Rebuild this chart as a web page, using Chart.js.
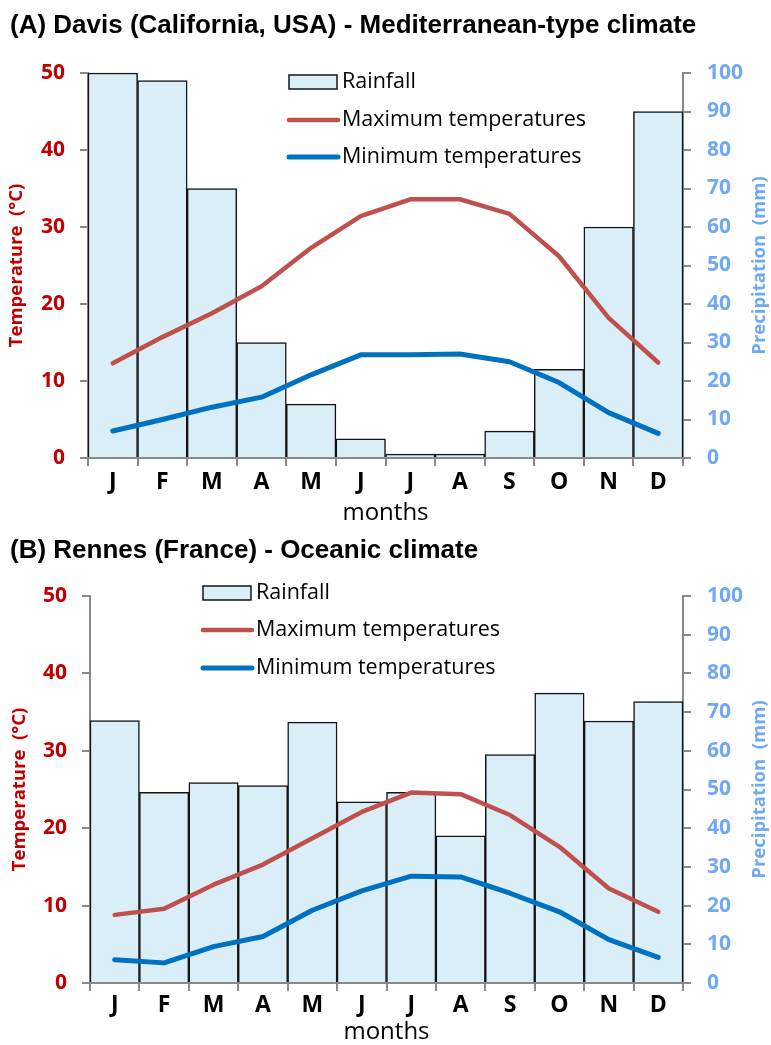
<!DOCTYPE html>
<html>
<head>
<meta charset="utf-8">
<script src="https://cdn.jsdelivr.net/npm/chart.js@4"></script>
<style>
  body { margin: 0; background: #fff; width: 771px; height: 1045px; position: relative; overflow: hidden; }
  .title { position: absolute; left: 10px; font: bold 26px "Liberation Sans", Arial, sans-serif; line-height: 30px; white-space: nowrap; color: #000; }
  .wrap { position: absolute; left: 0; width: 771px; }
</style>
</head>
<body>
<div class="wrap" style="top:0;height:530px"><canvas id="davis" width="771" height="530"></canvas></div>
<div class="wrap" style="top:525px;height:525px"><canvas id="rennes" width="771" height="525"></canvas></div>
<div class="title" style="top:9px">(A) Davis (California, USA) - Mediterranean-type climate</div>
<div class="title" style="top:534px">(B) Rennes (France) - Oceanic climate</div>
<script>
"use strict";

const months = ['J', 'F', 'M', 'A', 'M', 'J', 'J', 'A', 'S', 'O', 'N', 'D'];

// Davis, monthly rainfall (mm) and temperatures (°C)
const davisRain = [100, 98, 70, 30, 14, 5, 1, 1, 7, 23, 60, 90];
const davisMax = [12.3, 15.7, 18.8, 22.3, 27.3, 31.4, 33.6, 33.6, 31.7, 26.2, 18.2, 12.4];
const davisMin = [3.5, 5.0, 6.6, 7.9, 10.8, 13.4, 13.4, 13.5, 12.5, 9.8, 5.9, 3.2];

// Rennes
const rennesRain = [67.8, 49.3, 51.8, 51, 67.4, 46.8, 49.3, 38, 59, 74.9, 67.7, 72.7];
const rennesMax = [8.8, 9.6, 12.7, 15.3, 18.7, 22.1, 24.6, 24.4, 21.7, 17.6, 12.2, 9.2];
const rennesMin = [3.0, 2.6, 4.7, 6.0, 9.4, 11.9, 13.8, 13.7, 11.6, 9.2, 5.6, 3.3];

const tempTicks = {min: 0, max: 50, step: 10};
const rainTicks = {min: 0, max: 100, step: 10};

const RED = '#c00000';
const SKY = '#6fa8f5';
const AXIS = '#898989';
const FONT = '"Open Sans", "DejaVu Sans", sans-serif';

// legend drawn inside the plot, like the original
const innerLegend = {
  id: 'innerLegend',
  afterDatasetsDraw(chart, args, opts) {
    const ctx = chart.ctx;
    ctx.save();
    ctx.font = '21.5px ' + FONT;
    ctx.textBaseline = 'middle';
    chart.data.datasets.forEach((ds, i) => {
      let y = opts.rows[i];
      if (ds.type === 'bar') {
        ctx.fillStyle = ds.backgroundColor;
        ctx.fillRect(opts.x + 1, y - 7, 48, 14);
        ctx.strokeStyle = ds.borderColor;
        ctx.lineWidth = 1.5;
        ctx.strokeRect(opts.x + 1, y - 7, 48, 14);
      } else {
        ctx.strokeStyle = ds.borderColor;
        ctx.lineWidth = ds.borderWidth;
        ctx.lineCap = 'round';
        ctx.beginPath();
        ctx.moveTo(opts.x + 1, y);
        ctx.lineTo(opts.x + 50, y);
        ctx.stroke();
      }
      ctx.fillStyle = '#000';
      ctx.fillText(ds.label, opts.x + 54, y);
    });
    ctx.restore();
  },
};

// right axis title reads bottom-to-top in the original
const rightTitle = {
  id: 'rightTitle',
  afterDraw(chart, args, opts) {
    const ctx = chart.ctx;
    const {top, bottom} = chart.chartArea;
    ctx.save();
    ctx.translate(opts.x, (top + bottom) / 2);
    ctx.rotate(-Math.PI / 2);
    ctx.font = 'bold 18.5px ' + FONT;
    ctx.fillStyle = SKY;
    ctx.textAlign = 'center';
    ctx.textBaseline = 'middle';
    ctx.fillText(opts.text, 0, 0);
    ctx.restore();
  },
};

function climateChart(id, rain, tmax, tmin, L) {
  const gridOpts = {drawOnChartArea: false, tickLength: 8, color: AXIS, lineWidth: 2};
  return new Chart(document.getElementById(id), {
    type: 'bar',
    data: {
      labels: months,
      datasets: [
        {
          type: 'bar',
          label: 'Rainfall',
          data: rain,
          yAxisID: 'y1',
          backgroundColor: '#daeef8',
          borderColor: '#141414',
          borderWidth: 1.5,
          barPercentage: 1,
          categoryPercentage: 1,
          order: 3,
          clip: false,
        },
        {
          type: 'line',
          label: 'Maximum temperatures',
          data: tmax,
          yAxisID: 'y',
          borderColor: '#c0504d',
          backgroundColor: '#c0504d',
          borderWidth: 4.5,
          pointRadius: 0,
          tension: 0,
          borderCapStyle: 'round',
          borderJoinStyle: 'round',
          order: 2,
        },
        {
          type: 'line',
          label: 'Minimum temperatures',
          data: tmin,
          yAxisID: 'y',
          borderColor: '#0070c0',
          backgroundColor: '#0070c0',
          borderWidth: 5,
          pointRadius: 0,
          tension: 0,
          borderCapStyle: 'round',
          borderJoinStyle: 'round',
          order: 1,
        },
      ],
    },
    options: {
      responsive: false,
      animation: false,
      events: [],
      layout: {padding: {top: L.top, left: 0, right: 0, bottom: 0}},
      plugins: {
        legend: {display: false},
        tooltip: {enabled: false},
        innerLegend: {x: L.legendX, rows: L.legendRows},
        rightTitle: {x: 760, text: 'Precipitation  (mm)'},
      },
      scales: {
        x: {
          offset: true,
          grid: Object.assign({offset: true}, gridOpts),
          border: {color: AXIS, width: 2},
          ticks: {color: '#000', font: {family: FONT, size: 23, weight: 'bold'}, padding: L.monthLabelPad, maxRotation: 0, autoSkip: false},
          title: {display: true, text: 'months', color: '#000', font: {family: FONT, size: 24}, padding: {top: 0, bottom: L.monthsPad}},
          afterFit(s) { s.height = L.xh; },
        },
        y: {
          position: 'left',
          min: tempTicks.min,
          max: tempTicks.max,
          ticks: {stepSize: tempTicks.step, color: RED, font: {family: FONT, size: 21, weight: 'bold'}, padding: 15},
          grid: gridOpts,
          border: {color: AXIS, width: 2},
          title: {display: true, text: 'Temperature  (°C)', color: RED, font: {family: FONT, size: 18.5, weight: 'bold'}, padding: {top: L.leftTitlePad}},
          afterFit(s) { s.width = L.left; },
        },
        y1: {
          position: 'right',
          min: rainTicks.min,
          max: rainTicks.max,
          ticks: {stepSize: rainTicks.step, color: SKY, font: {family: FONT, size: 21, weight: 'bold'}, padding: 16},
          grid: gridOpts,
          border: {color: AXIS, width: 2},
          afterFit(s) { s.width = 771 - 683; },
        },
      },
    },
    plugins: [innerLegend, rightTitle],
  });
}

climateChart('davis', davisRain, davisMax, davisMin, {
  top: 73, xh: 72, left: 88, monthLabelPad: 3, monthsPad: 2.5, leftTitlePad: 6,
  legendX: 288, legendRows: [82, 120, 157],
});

climateChart('rennes', rennesRain, rennesMax, rennesMin, {
  top: 71, xh: 67, left: 90, monthLabelPad: 1, monthsPad: 3.5, leftTitlePad: 9,
  legendX: 202, legendRows: [68, 105, 143],
});
</script>
</body>
</html>
